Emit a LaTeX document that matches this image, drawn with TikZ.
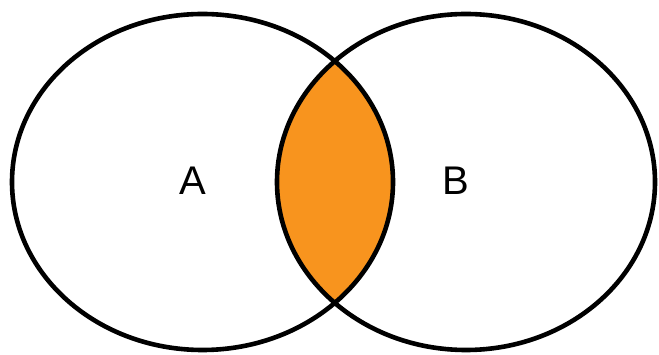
\documentclass[tikz,border=0pt]{standalone}
\usepackage{fontspec}
\setmainfont{Liberation Sans}
\definecolor{lensorange}{RGB}{248,148,30}
\begin{document}
\begin{tikzpicture}[x=1pt,y=-1pt,
  setline/.style={draw=black,line width=4.6pt},
  setlabel/.style={font=\fontsize{40}{42}\selectfont,inner sep=0pt}]
\useasboundingbox (0,0) rectangle (659,355);
\coordinate (ca) at (202.5,182);
\coordinate (cb) at (466,182);
\begin{scope}
  \clip (ca) ellipse [x radius=190.5, y radius=168];
  \fill[lensorange] (cb) ellipse [x radius=189, y radius=168];
\end{scope}
\draw[setline] (ca) ellipse [x radius=190.5, y radius=168];
\draw[setline] (cb) ellipse [x radius=189, y radius=168];
\node[setlabel] (A) at (193,181) {A};
\node[setlabel] (B) at (456,181) {B};
\end{tikzpicture}
\end{document}
